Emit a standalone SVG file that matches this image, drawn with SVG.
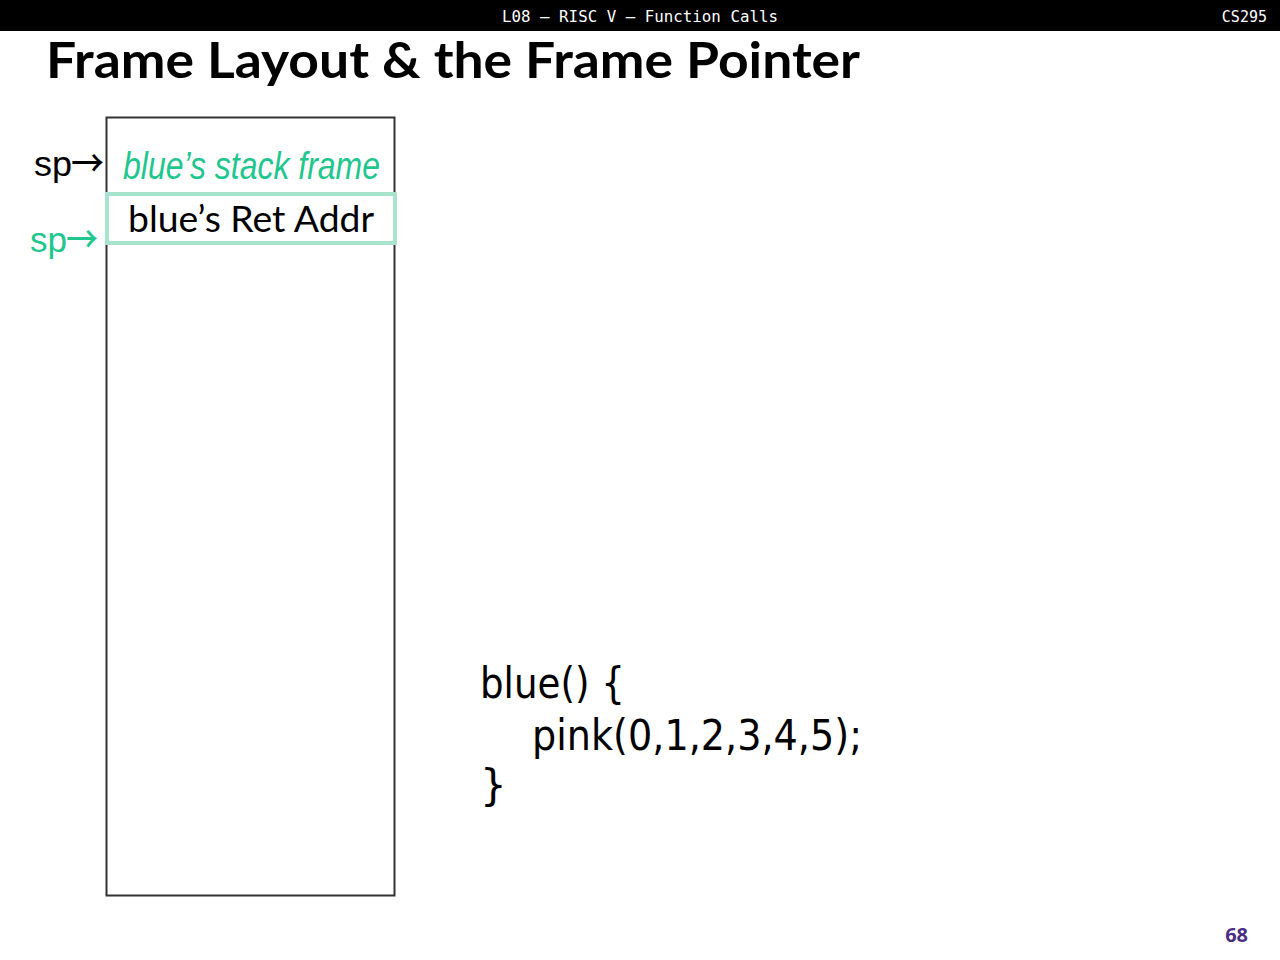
<svg xmlns="http://www.w3.org/2000/svg" width="1280" height="960" viewBox="0 0 1280 960">
  <style>
    .hdr { font-family: "DejaVu Sans Mono", "Liberation Mono", monospace; font-size: 15px; fill: #ffffff; }
    .title { font-family: Lato, "Open Sans", "Liberation Sans", sans-serif; font-weight: bold; font-size: 50px; fill: #000000; }
    .sp { font-family: "Liberation Sans", Arial, sans-serif; font-size: 35px; }
    .arr { font-family: "Noto Sans CJK JP", "Noto Sans CJK SC", sans-serif; font-size: 36px; font-weight: 500; }
    .frame { font-family: "Liberation Sans", Arial, sans-serif; font-style: italic; font-size: 38px; fill: #1fc68e; }
    .cell { font-family: Lato, "Open Sans", sans-serif; font-size: 37px; fill: #000000; }
    .code { font-family: "DejaVu Sans", Verdana, sans-serif; font-size: 42px; fill: #000000; }
    .pg { font-family: "Open Sans", "Liberation Sans", sans-serif; font-weight: bold; font-size: 20px; fill: #4b2e83; }
  </style>
  <rect x="0" y="0" width="1280" height="960" fill="#ffffff"/>
  <g id="header">
    <rect x="0" y="0" width="1280" height="31" fill="#000000"/>
    <text class="hdr" x="640" y="22" text-anchor="middle" textLength="276" lengthAdjust="spacingAndGlyphs">L08 – RISC V – Function Calls</text>
    <text class="hdr" x="1267" y="22" text-anchor="end">CS295</text>
  </g>
  <g id="title">
    <text class="title" x="46" y="78" textLength="814" lengthAdjust="spacingAndGlyphs">Frame Layout &amp; the Frame Pointer</text>
  </g>
  <g id="stack">
    <rect x="106.5" y="117.5" width="288" height="778" fill="none" stroke="#333333" stroke-width="2"/>
    <text class="frame" x="123" y="179" textLength="257" lengthAdjust="spacingAndGlyphs">blue’s stack frame</text>
  </g>
  <g id="ret-addr">
    <rect x="107" y="194" width="288" height="49" fill="none" stroke="#a8e4cb" stroke-width="4"/>
    <text class="cell" x="128" y="232" textLength="246" lengthAdjust="spacingAndGlyphs">blue’s Ret Addr</text>
  </g>
  <g id="sp-old">
    <text class="sp" x="34" y="176" fill="#000000"><tspan textLength="38" lengthAdjust="spacingAndGlyphs">sp</tspan><tspan class="arr" x="71" y="177" textLength="33" lengthAdjust="spacingAndGlyphs">→</tspan></text>
  </g>
  <g id="sp-new">
    <text class="sp" x="30" y="252" fill="#1fc68e"><tspan textLength="37" lengthAdjust="spacingAndGlyphs">sp</tspan><tspan class="arr" x="66" y="253" textLength="32" lengthAdjust="spacingAndGlyphs">→</tspan></text>
  </g>
  <g id="connectors"></g>
  <g id="code">
    <text class="code" x="480" y="698" textLength="145" lengthAdjust="spacingAndGlyphs">blue() {</text>
    <text class="code" x="532" y="750" textLength="330" lengthAdjust="spacingAndGlyphs">pink(0,1,2,3,4,5);</text>
    <text class="code" x="480" y="800">}</text>
  </g>
  <g id="page">
    <text class="pg" x="1248" y="942" text-anchor="end">68</text>
  </g>
</svg>
